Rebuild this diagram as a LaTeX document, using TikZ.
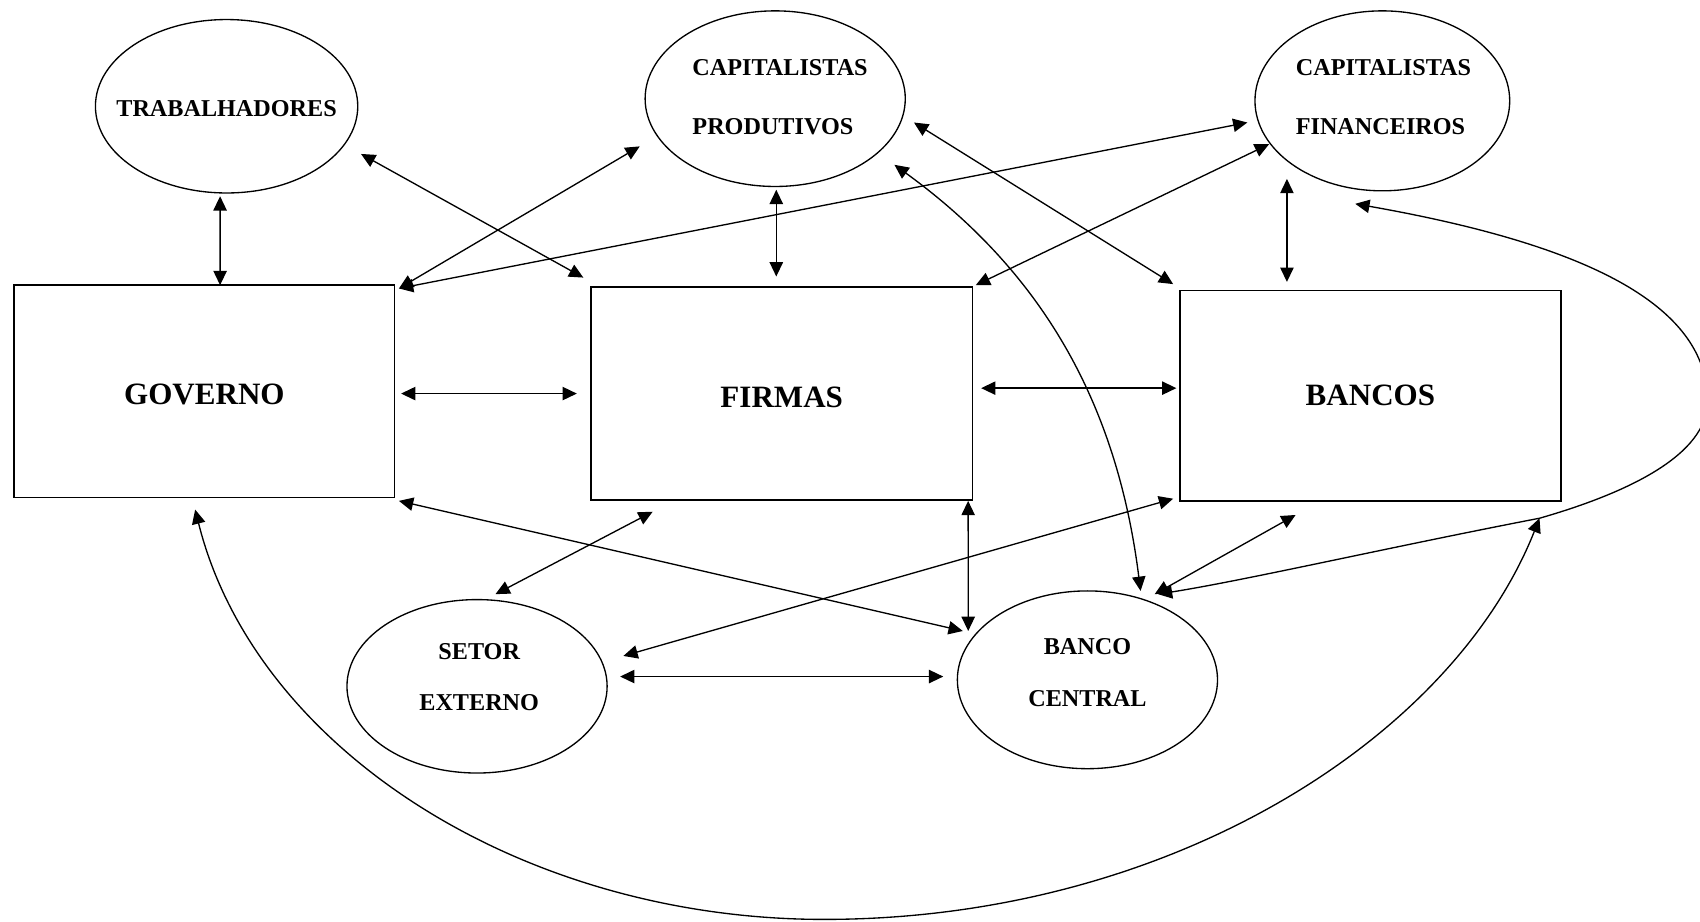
\documentclass[tikz,border=0pt]{standalone}
\usepackage{fontspec}
\setmainfont{Liberation Serif}
\usetikzlibrary{arrows.meta,calc,shapes.geometric}
\newcommand{\lowtxt}[1]{\raisebox{-1.7pt}[0.66em][0pt]{#1}}
\begin{document}
\begin{tikzpicture}[x=0.02cm,y=-0.02cm,
  >={Triangle[length=7.5pt,width=7pt]},
  box/.style={draw,line width=0.9pt,inner sep=0pt,outer sep=0pt,font=\fontsize{16.3}{20}\selectfont\bfseries},
  ell/.style={draw,ellipse,line width=0.7pt,inner sep=0pt,outer sep=0pt},
  lbl/.style={inner sep=0pt,font=\fontsize{12.7}{31}\selectfont\bfseries},
  lbltwo/.style={inner sep=0pt,align=center,font=\fontsize{12.7}{27.2}\selectfont\bfseries},
  conn/.style={<->,line width=0.7pt}]
\fill[white] (0,0) rectangle (1568,850);
\useasboundingbox (0,0) rectangle (1568,850);
\clip (0,0) rectangle (1568,850);
% nodes
\node[ell,minimum width=4.84cm,minimum height=3.2cm] (trab) at (209,98) {};
\node[lbl] (trabt) at (209,100) {TRABALHADORES};
\node[ell,minimum width=4.8cm,minimum height=3.24cm] (cprod) at (715,91) {};
\node[lbl,align=left] (cprodt) at (719.5,89.5) {CAPITALISTAS\\PRODUTIVOS};
\node[ell,minimum width=4.7cm,minimum height=3.32cm] (cfin) at (1275,93) {};
\node[lbl,align=left] (cfint) at (1276,89.5) {CAPITALISTAS\\FINANCEIROS};
\node[box,minimum width=7.02cm,minimum height=3.92cm] (gov) at (188.5,361) {\lowtxt{GOVERNO}};
\node[box,minimum width=7.04cm,minimum height=3.92cm] (firm) at (721,363) {\lowtxt{FIRMAS}};
\node[box,minimum width=7.04cm,minimum height=3.88cm] (banc) at (1264,365) {BANCOS};
\node[ell,minimum width=4.8cm,minimum height=3.2cm] (se) at (440,633) {};
\node[lbltwo] (set) at (442,624.5) {SETOR\\EXTERNO};
\node[ell,minimum width=4.8cm,minimum height=3.28cm] (bc) at (1003,627) {};
\node[lbltwo] (bct) at (1003,620.5) {BANCO\\CENTRAL};
\coordinate (arcb) at (760,848);
\coordinate (bse) at ($(banc.south east)+(-20,16)$);
\coordinate (rgt) at (1575,370);
% connectors
\draw[conn] ($(trab.south)+(-6,3)$) -- ($(gov.north)+(14.5,0)$);
\draw[conn] ($(trab.east)+(3,44)$) -- ($(firm.north west)+(-7,-9)$);
\draw[conn] ($(gov.north east)+(4,3)$) -- ($(cprod.west)+(-5,44)$);
\draw[conn] ($(gov.north east)+(4,3)$) -- ($(cfin.west)+(-7,20)$);
\draw[conn] ($(cprod.south)+(1,3)$) -- ($(firm.north)+(-5,-10)$);
\draw[conn] ($(cprod.east)+(8,22)$) -- ($(banc.north west)+(-6,-6)$);
\draw[conn] ($(cprod.east)+(-10,61)$) .. controls (960,250) and (1030,370) .. ($(bc.north)+(49,0)$);
\draw[conn] ($(firm.north east)+(3,-2)$) -- ($(cfin.west)+(13,40)$);
\draw[conn] ($(cfin.south)+(-88,-11)$) -- ($(banc.north)+(-77,-8)$);
\draw[conn] ($(gov.east)+(6,2)$) -- ($(firm.west)+(-13,0)$);
\draw[conn] ($(firm.east)+(8,-5)$) -- ($(banc.west)+(-3,-7)$);
\draw[conn] ($(gov.south east)+(4,3)$) -- ($(bc.west)+(5,-45)$);
\draw[conn] ($(firm.south)+(-119,11)$) -- ($(se.north)+(17,-5)$);
\draw[conn] ($(firm.south east)+(-4,1)$) -- ($(bc.west)+(10,-45)$);
\draw[conn] ($(banc.south west)+(-6,-2)$) -- ($(se.east)+(15,-28)$);
\draw[conn] ($(se.east)+(12,-9)$) -- ($(bc.west)+(-13,-3)$);
\draw[conn] ($(banc.south)+(-69,13)$) -- ($(bc.north)+(62,3)$);
\draw[conn] ($(gov.south)+(-8.5,11)$) .. controls (235,690) and (480,848) .. (arcb) .. controls (1080,848) and (1340,680) .. (bse);
\draw[conn] ($(cfin.south)+(-25,12)$) .. controls (1460,225) and (1575,280) .. (rgt) .. controls (1575,420) and (1500,455) .. (bse) .. controls (1280,505) and (1150,535) .. ($(bc.north)+(65,3)$);
\end{tikzpicture}
\end{document}
